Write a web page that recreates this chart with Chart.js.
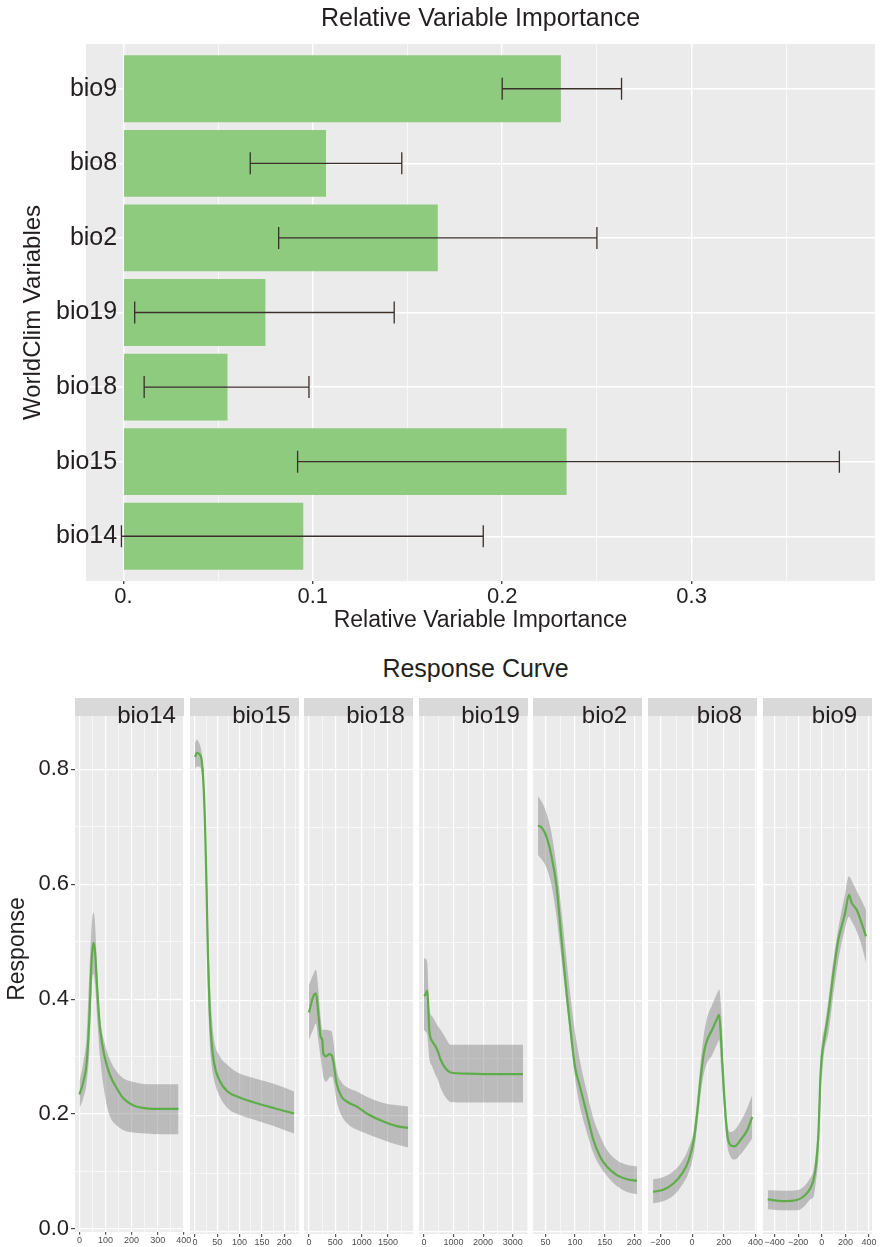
<!DOCTYPE html>
<html>
<head>
<meta charset="utf-8">
<script src="https://cdn.jsdelivr.net/npm/chart.js@4/dist/chart.umd.min.js"></script>
<style>
  html, body { margin: 0; padding: 0; background: #fff; }
  #wrap { position: relative; width: 880px; height: 1247px; overflow: hidden; }
  #wrap canvas { position: absolute; }
  #respCurveTitle {
    position: absolute; left: 0; top: 653px; width: 951px; text-align: center;
    font: 25px/30px 'Liberation Sans', Arial, sans-serif; color: #231F20;
  }
</style>
</head>
<body>
<div id="wrap">
  <canvas id="impChart" width="880" height="640" style="left:0;top:0"></canvas>
  <div id="respCurveTitle">Response Curve</div>
</div>
<script>
// ---- relative importance (top) ----
const variables = ['bio9', 'bio8', 'bio2', 'bio19', 'bio18', 'bio15', 'bio14'];
const importance = [0.231, 0.107, 0.166, 0.075, 0.055, 0.234, 0.095];
const errLow = [0.200, 0.067, 0.082, 0.006, 0.011, 0.092, -0.001];
const errHigh = [0.263, 0.147, 0.250, 0.143, 0.098, 0.378, 0.190];
const impTicks = [0, 0.1, 0.2, 0.3];
const impTickLabels = ['0.', '0.1', '0.2', '0.3'];
const impMinor = [0.05, 0.15, 0.25, 0.35];

// ---- response curves (bottom) ----
const respTicks = [0, 0.2, 0.4, 0.6, 0.8];
const respTickLabels = ['0.0', '0.2', '0.4', '0.6', '0.8'];
const respMinor = [0.1, 0.3, 0.5, 0.7];

const bio14X = [0, 15, 28, 38, 47, 54, 60, 69, 79, 98, 117, 143, 169, 207, 258, 309, 380];
const bio14Fit = [0.234, 0.256, 0.291, 0.366, 0.470, 0.498, 0.482, 0.412, 0.349, 0.297, 0.268, 0.245, 0.227, 0.215, 0.210, 0.209, 0.209];
const bio14Hi = [0.256, 0.290, 0.337, 0.445, 0.530, 0.551, 0.530, 0.440, 0.370, 0.322, 0.295, 0.274, 0.262, 0.256, 0.252, 0.252, 0.252];
const bio14Lo = [0.210, 0.228, 0.256, 0.310, 0.420, 0.444, 0.425, 0.360, 0.300, 0.232, 0.196, 0.180, 0.172, 0.168, 0.166, 0.165, 0.165];
const bio14Ticks = [0, 100, 200, 300, 400];
const bio14TickLabels = ['0', '100', '200', '300', '400'];
const bio14Minor = [50, 150, 250, 350];
const bio14Range = [-17, 401];

const bio15X = [0, 4.5, 9.7, 15, 19.4, 23, 26, 29, 33, 37, 43, 54.5, 73, 95.5, 133, 178, 222];
const bio15Fit = [0.822, 0.829, 0.827, 0.817, 0.771, 0.696, 0.598, 0.482, 0.384, 0.331, 0.291, 0.262, 0.242, 0.233, 0.223, 0.213, 0.204];
const bio15Hi = [0.846, 0.852, 0.846, 0.830, 0.795, 0.730, 0.640, 0.540, 0.440, 0.380, 0.331, 0.305, 0.288, 0.275, 0.265, 0.255, 0.242];
const bio15Lo = [0.800, 0.806, 0.805, 0.797, 0.750, 0.660, 0.540, 0.420, 0.330, 0.290, 0.262, 0.235, 0.213, 0.203, 0.193, 0.182, 0.169];
const bio15Ticks = [0, 50, 100, 150, 200];
const bio15TickLabels = ['0', '50', '100', '150', '200'];
const bio15Minor = [25, 75, 125, 175, 225];
const bio15Range = [-11, 233];

const bio18X = [0, 82, 133, 177, 222, 253, 272, 323, 386, 430, 462, 525, 620, 747, 905, 1095, 1411, 1665, 1880];
const bio18Fit = [0.379, 0.407, 0.412, 0.378, 0.337, 0.331, 0.308, 0.303, 0.307, 0.305, 0.294, 0.256, 0.233, 0.223, 0.216, 0.204, 0.190, 0.182, 0.179];
const bio18Hi = [0.427, 0.445, 0.453, 0.420, 0.370, 0.349, 0.349, 0.349, 0.348, 0.346, 0.330, 0.280, 0.258, 0.248, 0.242, 0.233, 0.222, 0.218, 0.216];
const bio18Lo = [0.331, 0.350, 0.360, 0.331, 0.300, 0.280, 0.268, 0.259, 0.266, 0.268, 0.262, 0.226, 0.200, 0.185, 0.176, 0.169, 0.158, 0.150, 0.145];
const bio18Ticks = [0, 500, 1000, 1500];
const bio18TickLabels = ['0', '500', '1000', '1500'];
const bio18Minor = [250, 750, 1250, 1750];
const bio18Range = [-94, 1974];

const bio19X = [0, 50, 113, 147, 180, 282, 395, 474, 564, 733, 902, 1466, 2593, 3348];
const bio19Fit = [0.408, 0.410, 0.417, 0.389, 0.349, 0.329, 0.320, 0.311, 0.297, 0.282, 0.275, 0.273, 0.272, 0.272];
const bio19Hi = [0.473, 0.472, 0.465, 0.420, 0.385, 0.372, 0.362, 0.355, 0.349, 0.335, 0.323, 0.323, 0.323, 0.323];
const bio19Lo = [0.349, 0.346, 0.340, 0.320, 0.300, 0.285, 0.270, 0.262, 0.248, 0.232, 0.224, 0.223, 0.223, 0.223];
const bio19Ticks = [0, 1000, 2000, 3000];
const bio19TickLabels = ['0', '1000', '2000', '3000'];
const bio19Minor = [500, 1500, 2500, 3500];
const bio19Range = [-167, 3517];

const bio2X = [37.5, 43.2, 51.7, 60.2, 68.7, 77.2, 85.7, 94.2, 99.9, 108.4, 119.7, 131, 142.3, 153.6, 170.6, 187.6, 204.5];
const bio2Fit = [0.703, 0.700, 0.684, 0.650, 0.598, 0.505, 0.412, 0.331, 0.285, 0.250, 0.204, 0.158, 0.129, 0.112, 0.097, 0.090, 0.087];
const bio2Hi = [0.754, 0.745, 0.725, 0.690, 0.632, 0.555, 0.470, 0.390, 0.345, 0.294, 0.242, 0.195, 0.165, 0.141, 0.123, 0.115, 0.112];
const bio2Lo = [0.652, 0.645, 0.630, 0.600, 0.545, 0.470, 0.395, 0.318, 0.265, 0.215, 0.172, 0.135, 0.112, 0.096, 0.078, 0.068, 0.064];
const bio2Ticks = [50, 100, 150, 200];
const bio2TickLabels = ['50', '100', '150', '200'];
const bio2Minor = [75, 125, 175];
const bio2Range = [29, 213];

const bio8X = [-246, -179, -116, -63, -21, 10.5, 31.6, 52.6, 73.7, 94.7, 126, 154, 170.5, 183, 200, 221, 242, 267, 305, 347, 379];
const bio8Fit = [0.068, 0.072, 0.083, 0.100, 0.123, 0.158, 0.204, 0.262, 0.308, 0.331, 0.349, 0.366, 0.375, 0.331, 0.245, 0.169, 0.149, 0.147, 0.158, 0.175, 0.198];
const bio8Hi = [0.090, 0.094, 0.104, 0.121, 0.145, 0.175, 0.225, 0.290, 0.340, 0.370, 0.392, 0.410, 0.419, 0.385, 0.274, 0.187, 0.172, 0.175, 0.190, 0.213, 0.236];
const bio8Lo = [0.048, 0.052, 0.062, 0.080, 0.102, 0.135, 0.181, 0.236, 0.272, 0.292, 0.305, 0.322, 0.331, 0.285, 0.215, 0.150, 0.129, 0.124, 0.133, 0.148, 0.161];
const bio8Ticks = [-200, 0, 200, 400];
const bio8TickLabels = ['\u2212200', '0', '200', '400'];
const bio8Minor = [-100, 100, 300];
const bio8Range = [-278, 409];

const bio9X = [-458, -323, -211, -154, -98, -70, -48, -28, -14, 0, 20, 56, 98, 140, 197, 230, 253, 295, 337, 374];
const bio9Fit = [0.055, 0.052, 0.054, 0.060, 0.074, 0.089, 0.117, 0.170, 0.256, 0.303, 0.331, 0.378, 0.447, 0.505, 0.551, 0.583, 0.569, 0.557, 0.534, 0.511];
const bio9Hi = [0.071, 0.070, 0.071, 0.077, 0.092, 0.106, 0.140, 0.200, 0.285, 0.330, 0.350, 0.401, 0.470, 0.525, 0.585, 0.615, 0.608, 0.590, 0.573, 0.557];
const bio9Lo = [0.038, 0.036, 0.036, 0.042, 0.055, 0.060, 0.089, 0.130, 0.210, 0.265, 0.310, 0.343, 0.410, 0.470, 0.525, 0.545, 0.537, 0.520, 0.495, 0.465];
const bio9Ticks = [-400, -200, 0, 200, 400];
const bio9TickLabels = ['\u2212400', '\u2212200', '0', '200', '400'];
const bio9Minor = [-300, -100, 100, 300];
const bio9Range = [-498, 425];

// ---- styling ----
const FONT = "'Liberation Sans', Arial, sans-serif";
const TEXT = '#231F20';
const PANEL_BG = '#EBEBEB';
const STRIP_BG = '#D9D9D9';
const BAR_GREEN = '#8ECB7F';
const LINE_GREEN = '#5EAD48';
const BAND = 'rgba(128,128,128,0.45)';
const CLEAR = 'rgba(0,0,0,0)';
Chart.defaults.font.family = FONT;
Chart.defaults.color = TEXT;

const panelBg = {
  id: 'panelBg',
  beforeDraw(chart) {
    const { ctx, chartArea: a } = chart;
    ctx.save();
    ctx.fillStyle = PANEL_BG;
    ctx.fillRect(a.left, a.top, a.right - a.left, a.bottom - a.top);
    ctx.restore();
  }
};

const errorBars = {
  id: 'errorBars',
  afterDatasetsDraw(chart) {
    const { ctx, scales: { x, y } } = chart;
    ctx.save();
    ctx.strokeStyle = '#3B2F2C';
    ctx.lineWidth = 1.3;
    variables.forEach((v, i) => {
      const cy = y.getPixelForValue(i);
      const x1 = x.getPixelForValue(errLow[i]);
      const x2 = x.getPixelForValue(errHigh[i]);
      ctx.beginPath();
      ctx.moveTo(x1, cy); ctx.lineTo(x2, cy);
      ctx.moveTo(x1, cy - 11); ctx.lineTo(x1, cy + 11);
      ctx.moveTo(x2, cy - 11); ctx.lineTo(x2, cy + 11);
      ctx.stroke();
    });
    ctx.restore();
  }
};

// ---- top chart ----
new Chart(document.getElementById('impChart'), {
  type: 'bar',
  data: {
    datasets: [{
      data: importance.map((v, i) => ({ x: v, y: i })),
      backgroundColor: BAR_GREEN,
      borderWidth: 0,
      categoryPercentage: 1,
      barPercentage: 0.895
    }]
  },
  options: {
    indexAxis: 'y',
    responsive: false,
    animation: false,
    events: [],
    layout: { padding: { right: 5 } },
    plugins: {
      legend: { display: false },
      tooltip: { enabled: false },
      title: {
        display: true,
        text: 'Relative Variable Importance',
        fullSize: false,
        color: TEXT,
        font: { size: 25, weight: 'normal' },
        padding: { top: 4, bottom: 10 }
      }
    },
    scales: {
      x: {
        type: 'linear',
        min: -0.0197,
        max: 0.3968,
        afterBuildTicks: s => { s.ticks = impTicks.concat(impMinor).sort((a, b) => a - b).map(v => ({ value: v })); },
        afterFit: s => { s.height = 59; },
        border: { display: false },
        grid: {
          color: '#FFFFFF',
          lineWidth: c => (c.tick && impTicks.includes(c.tick.value)) ? 1.4 : 0.7,
          tickColor: c => (c.tick && impTicks.includes(c.tick.value)) ? '#444' : CLEAR,
          tickLength: 3
        },
        ticks: {
          autoSkip: false, maxRotation: 0, minRotation: 0, padding: 0,
          color: TEXT, font: { size: 22 },
          callback: v => { const k = impTicks.indexOf(v); return k >= 0 ? impTickLabels[k] : ''; }
        },
        title: {
          display: true, text: 'Relative Variable Importance', color: TEXT,
          font: { size: 23 }, padding: { top: 0, bottom: 6 }
        }
      },
      y: {
        type: 'linear',
        reverse: true,
        offset: false,
        min: -0.6,
        max: 6.6,
        afterBuildTicks: s => { s.ticks = variables.map((v, i) => ({ value: i })); },
        afterFit: s => { s.width = 86; },
        border: { display: false },
        grid: { offset: false, color: '#FFFFFF', lineWidth: 1.4, drawTicks: false },
        ticks: {
          mirror: true, crossAlign: 'far', padding: -30, autoSkip: false,
          color: TEXT, font: { size: 25 },
          callback: v => variables[v] || ''
        },
        title: {
          display: true, text: 'WorldClim Variables', color: TEXT,
          font: { size: 24 }, padding: { top: 19, bottom: 0 }
        }
      }
    }
  },
  plugins: [panelBg, errorBars]
});

// ---- facets ----
const facets = [
  { name: 'bio14', x: bio14X, fit: bio14Fit, hi: bio14Hi, lo: bio14Lo, ticks: bio14Ticks, labels: bio14TickLabels, minor: bio14Minor, range: bio14Range },
  { name: 'bio15', x: bio15X, fit: bio15Fit, hi: bio15Hi, lo: bio15Lo, ticks: bio15Ticks, labels: bio15TickLabels, minor: bio15Minor, range: bio15Range },
  { name: 'bio18', x: bio18X, fit: bio18Fit, hi: bio18Hi, lo: bio18Lo, ticks: bio18Ticks, labels: bio18TickLabels, minor: bio18Minor, range: bio18Range },
  { name: 'bio19', x: bio19X, fit: bio19Fit, hi: bio19Hi, lo: bio19Lo, ticks: bio19Ticks, labels: bio19TickLabels, minor: bio19Minor, range: bio19Range },
  { name: 'bio2', x: bio2X, fit: bio2Fit, hi: bio2Hi, lo: bio2Lo, ticks: bio2Ticks, labels: bio2TickLabels, minor: bio2Minor, range: bio2Range },
  { name: 'bio8', x: bio8X, fit: bio8Fit, hi: bio8Hi, lo: bio8Lo, ticks: bio8Ticks, labels: bio8TickLabels, minor: bio8Minor, range: bio8Range },
  { name: 'bio9', x: bio9X, fit: bio9Fit, hi: bio9Hi, lo: bio9Lo, ticks: bio9Ticks, labels: bio9TickLabels, minor: bio9Minor, range: bio9Range }
];

const PANEL_LEFT0 = 75;
const PANEL_W = 109;
const PANEL_STEP = 114.6;
const Y_AXIS_W = 75;
const SIDE_PAD = 8;
const FACET_TOP = 690;
const FACET_H = 557;

const stripPlugin = {
  id: 'strip',
  beforeDraw(chart) {
    const { ctx, chartArea: a } = chart;
    ctx.save();
    ctx.fillStyle = PANEL_BG;
    ctx.fillRect(a.left, a.top, a.right - a.left, a.bottom - a.top);
    ctx.fillStyle = STRIP_BG;
    ctx.fillRect(a.left, a.top - 18, a.right - a.left, 18);
    ctx.restore();
  },
  afterDraw(chart, args, opts) {
    const { ctx, chartArea: a } = chart;
    ctx.save();
    ctx.font = '24px ' + FONT;
    ctx.fillStyle = TEXT;
    ctx.textAlign = 'center';
    ctx.textBaseline = 'alphabetic';
    ctx.fillText(opts.label, (a.left + a.right) / 2 + 17, a.top + 7);
    if (opts.yTitle) {
      ctx.translate(18, 259);
      ctx.rotate(-Math.PI / 2);
      ctx.font = '23px ' + FONT;
      ctx.textBaseline = 'middle';
      ctx.fillText(opts.yTitle, 0, 0);
    }
    ctx.restore();
  }
};

const wrap = document.getElementById('wrap');

facets.forEach((f, i) => {
  const first = i === 0;
  const panelLeft = PANEL_LEFT0 + i * PANEL_STEP;
  const cLeft = first ? 0 : Math.round(panelLeft - SIDE_PAD);
  const cWidth = first ? Y_AXIS_W + PANEL_W + SIDE_PAD : PANEL_W + 2 * SIDE_PAD;
  const cv = document.createElement('canvas');
  cv.width = cWidth;
  cv.height = FACET_H;
  cv.style.left = cLeft + 'px';
  cv.style.top = FACET_TOP + 'px';
  wrap.appendChild(cv);

  const pts = ys => f.x.map((xv, k) => ({ x: xv, y: ys[k] }));
  const xVals = f.ticks.concat(f.minor).sort((a, b) => a - b);
  const yVals = respTicks.concat(respMinor).sort((a, b) => a - b);

  new Chart(cv, {
    type: 'line',
    data: {
      // fitted line first so it is painted on top of the band
      datasets: [
        { data: pts(f.fit), borderColor: LINE_GREEN, borderWidth: 2.2, fill: false, pointRadius: 0, cubicInterpolationMode: 'monotone' },
        { data: pts(f.hi), borderColor: CLEAR, borderWidth: 0, backgroundColor: BAND, fill: '+1', pointRadius: 0, cubicInterpolationMode: 'monotone' },
        { data: pts(f.lo), borderColor: CLEAR, borderWidth: 0, fill: false, pointRadius: 0, cubicInterpolationMode: 'monotone' }
      ]
    },
    options: {
      responsive: false,
      animation: false,
      events: [],
      layout: { padding: { top: 26, bottom: 0, left: first ? 0 : SIDE_PAD, right: SIDE_PAD } },
      plugins: {
        legend: { display: false },
        tooltip: { enabled: false },
        strip: { label: f.name, yTitle: first ? 'Response' : '' }
      },
      scales: {
        x: {
          type: 'linear',
          min: f.range[0],
          max: f.range[1],
          afterBuildTicks: s => { s.ticks = xVals.map(v => ({ value: v })); },
          afterFit: s => { s.height = 13; },
          border: { display: false },
          grid: {
            color: '#FFFFFF',
            lineWidth: c => (c.tick && f.ticks.includes(c.tick.value)) ? 1.2 : 0.6,
            tickColor: c => (c.tick && f.ticks.includes(c.tick.value)) ? '#555' : CLEAR,
            tickLength: 3
          },
          ticks: {
            autoSkip: false, maxRotation: 0, minRotation: 0, padding: 0,
            color: '#4D4D4D', font: { size: 9 },
            callback: v => { const k = f.ticks.indexOf(v); return k >= 0 ? f.labels[k] : ''; }
          }
        },
        y: {
          type: 'linear',
          min: -0.005,
          max: 0.893,
          afterBuildTicks: s => { s.ticks = yVals.map(v => ({ value: v })); },
          afterFit: s => { s.width = first ? Y_AXIS_W : 0; },
          border: { display: false },
          grid: {
            color: '#FFFFFF',
            lineWidth: c => (c.tick && respTicks.includes(c.tick.value)) ? 1.2 : 0.6,
            drawTicks: first,
            tickColor: c => (c.tick && respTicks.includes(c.tick.value)) ? '#444' : CLEAR,
            tickLength: 4
          },
          ticks: {
            display: first, autoSkip: false, padding: 2,
            color: TEXT, font: { size: 22 },
            callback: v => { const k = respTicks.indexOf(v); return k >= 0 ? respTickLabels[k] : ''; }
          }
        }
      }
    },
    plugins: [stripPlugin]
  });
});
</script>
</body>
</html>
